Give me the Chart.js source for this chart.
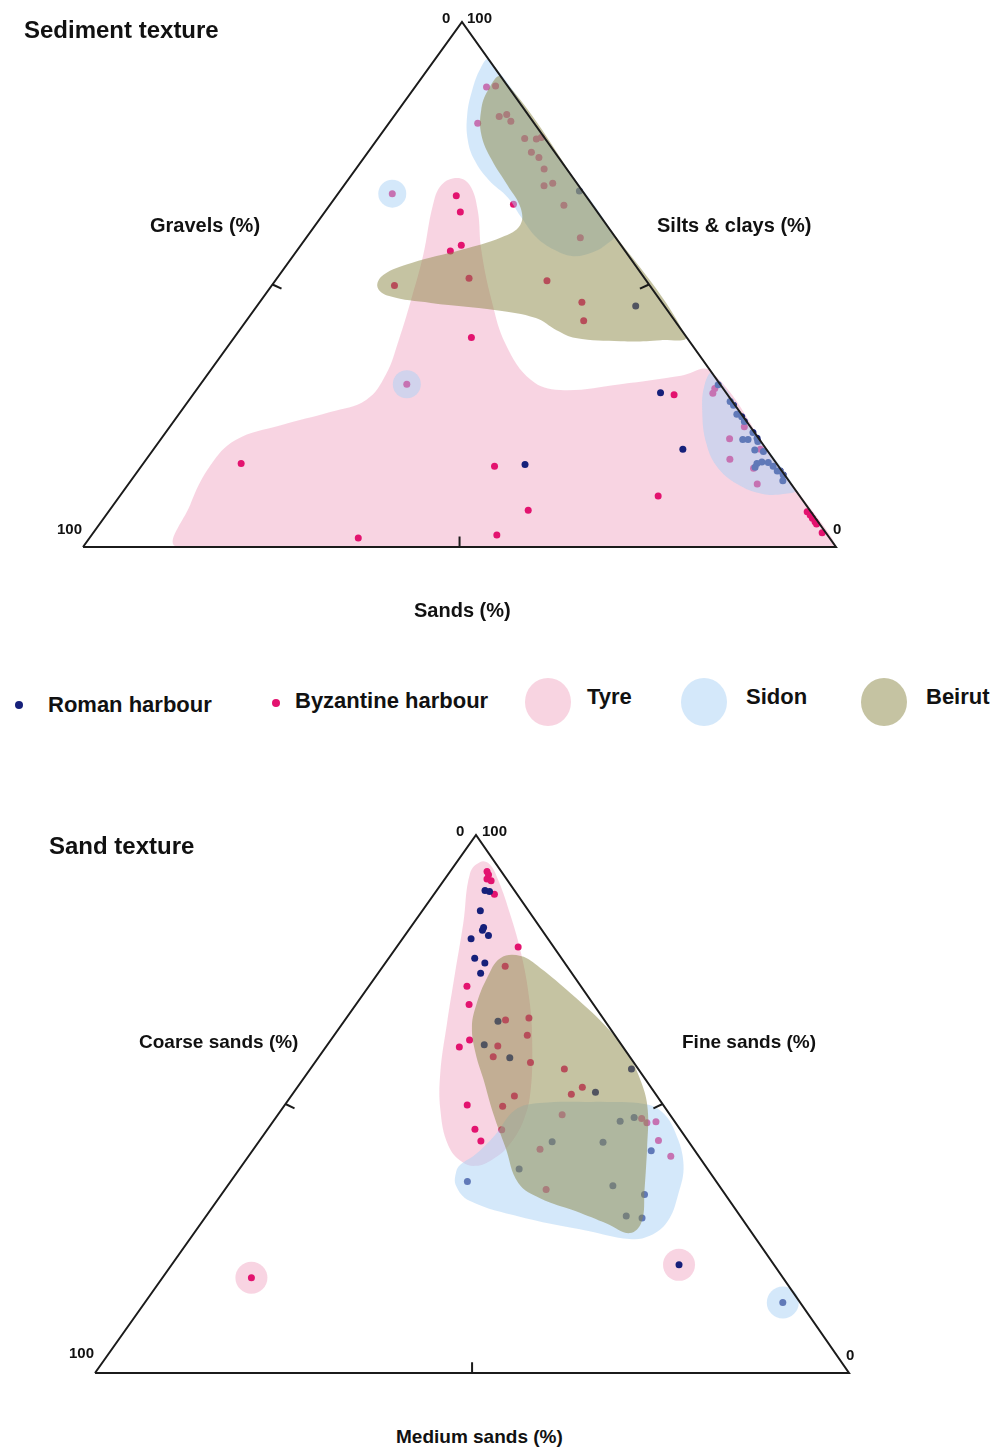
<!DOCTYPE html>
<html>
<head>
<meta charset="utf-8">
<script src="https://cdn.jsdelivr.net/npm/chart.js@4.4.1/dist/chart.umd.min.js"></script>
<style>
  body { margin: 0; background: #fff; width: 993px; height: 1448px; position: relative; overflow: hidden;
         font-family: "Liberation Sans", Arial, Helvetica, sans-serif; font-weight: bold; color: #111; }
  .t { position: absolute; white-space: nowrap; line-height: 1; }
  .dot { position: absolute; border-radius: 50%; }
  canvas { position: absolute; left: 0; }
</style>
</head>
<body>
<canvas id="sediment" width="993" height="600" style="top:0"></canvas>
<canvas id="sand" width="993" height="620" style="top:780px"></canvas>

<div class="t" style="left:24px;top:18px;font-size:24px">Sediment texture</div>
<div class="t" style="left:442px;top:10px;font-size:15px">0</div>
<div class="t" style="left:467px;top:10px;font-size:15px">100</div>
<div class="t" style="left:150px;top:215px;font-size:20px">Gravels (%)</div>
<div class="t" style="left:657px;top:215px;font-size:20px">Silts &amp; clays (%)</div>
<div class="t" style="left:414px;top:600px;font-size:20px">Sands (%)</div>
<div class="t" style="left:57px;top:521px;font-size:15px">100</div>
<div class="t" style="left:833px;top:521px;font-size:15px">0</div>

<div class="dot" style="left:15px;top:701px;width:8px;height:8px;background:#16207a"></div>
<div class="t" style="left:48px;top:694px;font-size:22px">Roman harbour</div>
<div class="dot" style="left:272px;top:699px;width:8px;height:8px;background:#e3136f"></div>
<div class="t" style="left:295px;top:690px;font-size:22px">Byzantine harbour</div>
<div class="dot" style="left:525px;top:678px;width:46px;height:48px;background:rgb(248,212,225)"></div>
<div class="t" style="left:587px;top:686px;font-size:22px">Tyre</div>
<div class="dot" style="left:681px;top:678px;width:46px;height:48px;background:rgb(212,232,250)"></div>
<div class="t" style="left:746px;top:686px;font-size:22px">Sidon</div>
<div class="dot" style="left:861px;top:678px;width:46px;height:48px;background:rgb(197,195,162)"></div>
<div class="t" style="left:926px;top:686px;font-size:22px">Beirut</div>

<div class="t" style="left:49px;top:834px;font-size:24px">Sand texture</div>
<div class="t" style="left:456px;top:823px;font-size:15px">0</div>
<div class="t" style="left:482px;top:823px;font-size:15px">100</div>
<div class="t" style="left:139px;top:1032px;font-size:19px">Coarse sands (%)</div>
<div class="t" style="left:682px;top:1032px;font-size:19px">Fine sands (%)</div>
<div class="t" style="left:396px;top:1427px;font-size:19px">Medium sands (%)</div>
<div class="t" style="left:69px;top:1345px;font-size:15px">100</div>
<div class="t" style="left:846px;top:1347px;font-size:15px">0</div>

<script>
// Sediment texture: [gravels, sands, silts & clays] (%)
const sedimentRoman = [
  [0.4, 31.8, 67.8], [3.8, 50.3, 45.9], [33.5, 50.8, 15.7], [8.7, 61.9, 29.4], [11.1, 70.3, 18.6],
  [0.3, 68.8, 30.9], [0.3, 72.0, 27.7], [0.2, 72.8, 27.0], [0.6, 74.1, 25.3], [0.2, 75.0, 24.8],
  [0.3, 75.8, 23.9], [0.2, 78.0, 21.8], [2.2, 77.3, 20.5], [1.5, 78.0, 20.5], [0.2, 79.1, 20.7],
  [0.4, 79.5, 20.1], [1.6, 79.9, 18.5], [0.6, 81.2, 18.2], [2.6, 81.5, 15.9], [3.2, 81.6, 15.2],
  [1.8, 82.0, 16.2], [1.0, 82.9, 16.1], [0.7, 83.9, 15.4], [0.6, 84.9, 14.5], [0.2, 85.3, 14.5],
  [0.2, 86.1, 13.7], [0.8, 86.6, 12.6]
];
const sedimentByzantine = [
  [2.9, 9.5, 87.6], [1.6, 10.6, 87.8], [7.5, 11.8, 80.7], [4.0, 14.0, 82.0], [2.8, 14.8, 82.4],
  [2.9, 16.0, 81.1], [2.7, 19.5, 77.8], [1.2, 21.1, 77.7], [0.4, 21.6, 78.0], [3.1, 21.7, 75.2],
  [2.6, 23.2, 74.2], [3.0, 25.0, 72.0], [4.6, 26.6, 68.8], [3.2, 27.5, 69.3], [10.4, 24.3, 65.3],
  [3.8, 31.1, 65.1], [4.7, 36.4, 58.9], [25.5, 7.2, 67.3], [17.2, 15.9, 66.9], [18.2, 18.0, 63.8],
  [21.2, 21.3, 57.5], [23.2, 20.4, 56.4], [23.3, 25.5, 51.2], [33.9, 16.3, 49.8], [13.2, 36.1, 50.7],
  [10.6, 42.8, 46.6], [12.1, 44.8, 43.1], [28.6, 31.5, 39.9], [41.6, 27.4, 31.0], [71.1, 13.0, 15.9],
  [37.7, 46.9, 15.4], [37.4, 55.6, 7.0], [62.6, 35.7, 1.7], [43.9, 53.8, 2.3], [18.8, 71.5, 9.7],
  [7.1, 63.9, 29.0], [1.8, 68.9, 29.3], [1.1, 68.7, 30.2], [0.8, 76.3, 22.9], [3.9, 75.5, 20.6],
  [0.8, 80.6, 18.6], [5.8, 77.5, 16.7], [3.5, 81.5, 15.0], [4.5, 83.5, 12.0], [0.5, 92.8, 6.7],
  [0.4, 93.5, 6.1], [0.4, 94.1, 5.5], [0.4, 94.8, 4.8], [0.4, 95.2, 4.4], [0.5, 96.8, 2.7]
];
const sedimentSidonSingles = [[25.5, 7.2, 67.3], [41.6, 27.4, 31.0]];
// envelopes (outline vertices)
const sedimentTyre = [
  [44.6, 55.4, 0], [87.4, 12.6, 0], [81.8, 10.2, 8.0], [75.3, 9.1, 15.6], [69.6, 10.0, 20.4],
  [62.2, 14.6, 23.2], [54.4, 19.9, 25.7], [48.5, 23.5, 28.0], [43.5, 23.7, 32.8], [38.5, 22.1, 39.4],
  [33.1, 19.9, 47.0], [27.2, 17.2, 55.6], [21.2, 13.7, 65.1], [18.1, 12.9, 69.0], [15.4, 14.3, 70.3],
  [14.4, 16.6, 69.0], [15.7, 20.1, 64.2], [19.0, 24.4, 56.6], [22.4, 30.6, 47.0], [24.7, 36.8, 38.5],
  [24.7, 43.5, 31.8], [21.8, 48.3, 29.9], [13.2, 55.8, 31.0], [4.4, 63.0, 32.6], [0, 66.5, 33.5],
  [0, 83.4, 16.6], [0, 100, 0], [44.6, 55.4, 0]
];
const sedimentSidon = [
  [0, 23.9, 76.1], [0, 7.2, 92.8], [1.9, 6.9, 91.2], [5.1, 7.9, 87.0], [8.1, 9.6, 82.3],
  [10.4, 12.1, 77.5], [11.4, 14.9, 73.7], [11.4, 18.7, 69.9], [10.5, 23.0, 66.5], [10.6, 26.5, 62.9],
  [10.5, 30.5, 59.0], [9.3, 34.1, 56.6], [7.4, 37.2, 55.4], [4.3, 39.5, 56.2], [1.5, 40.6, 57.9],
  [0, 40.6, 59.4], [0, 23.9, 76.1]
];
const sedimentSidonSands = [
  [0, 77.9, 22.1], [0, 66.9, 33.1], [2.1, 67.0, 30.9], [4.8, 69.1, 26.1], [7.4, 72.8, 19.8],
  [8.2, 76.8, 15.0], [6.9, 81.5, 11.6], [4.7, 85.2, 10.1], [2.0, 87.9, 10.1], [0, 89.1, 10.9],
  [0, 77.9, 22.1]
];
const sedimentBeirut = [
  [0, 35, 65], [0, 10.5, 89.5], [3.0, 10.0, 87.0], [5.8, 11.0, 83.2], [8.1, 13.4, 78.5],
  [9.1, 17.2, 73.7], [9.4, 21.7, 68.9], [9.8, 25.6, 64.6], [11.5, 27.2, 61.3], [15.1, 25.9, 59.0],
  [21.6, 21.8, 56.6], [29.5, 16.4, 54.1], [34.4, 13.8, 51.8], [36.3, 14.2, 49.5], [35.6, 16.6, 47.8],
  [30.7, 22.8, 46.5], [22.7, 32.2, 45.1], [18.2, 38.2, 43.6], [16.6, 42.1, 41.3], [14.8, 45.4, 39.8],
  [9.1, 51.7, 39.2], [3.7, 56.9, 39.4], [0, 59.8, 40.2], [0, 35, 65]
];

// Sand texture: [coarse, medium, fine] (%)
const sandRoman = [
  [3.9, 6.4, 89.7], [3.4, 7.1, 89.5], [6.4, 7.7, 85.9], [7.5, 9.7, 82.8], [7.9, 9.8, 82.3],
  [7.6, 11.1, 81.3], [10.2, 9.1, 80.7], [11.5, 11.4, 77.1], [10.6, 13.2, 76.2], [12.1, 13.6, 74.3],
  [14.2, 20.4, 65.4], [18.2, 20.8, 61.0], [16.0, 25.4, 58.6], [0.9, 42.6, 56.5], [7.8, 40.0, 52.2],
  [7.2, 46.0, 46.8], [5.0, 47.5, 47.5], [18.1, 38.9, 43.0], [11.4, 45.7, 42.9], [5.8, 52.9, 41.3],
  [25.0, 37.1, 37.9], [33.0, 31.4, 35.6], [14.1, 51.1, 34.8], [10.7, 56.1, 33.2], [15.1, 55.7, 29.2],
  [13.2, 58.0, 28.8], [12.6, 67.3, 20.1], [2.3, 84.6, 13.1]
];
const sandByzantine = [
  [1.9, 4.9, 93.2], [2.0, 5.4, 92.6], [2.6, 5.6, 91.8], [2.2, 6.3, 91.5], [3.0, 8.0, 89.0],
  [4.7, 16.1, 79.2], [8.2, 16.2, 75.6], [15.1, 13.0, 71.9], [16.5, 15.0, 68.5], [13.1, 21.3, 65.6],
  [9.8, 24.2, 66.0], [11.6, 25.6, 62.8], [19.7, 18.4, 61.9], [21.7, 17.7, 60.6], [16.5, 22.7, 60.8],
  [18.1, 23.1, 58.8], [13.7, 28.6, 57.7], [9.8, 33.7, 56.5], [9.1, 37.8, 53.1], [11.2, 37.0, 51.8],
  [18.9, 29.6, 51.5], [21.4, 29.0, 49.6], [26.0, 24.2, 49.8], [14.3, 37.7, 48.0], [27.2, 27.5, 45.3],
  [23.7, 31.1, 45.2], [27.5, 29.4, 43.1], [20.4, 38.0, 41.6], [23.3, 42.6, 34.1], [4.1, 48.6, 47.3],
  [3.8, 49.7, 46.5], [2.5, 50.8, 46.7], [3.9, 52.9, 43.2], [3.7, 56.0, 40.3], [70.5, 11.8, 17.7]
];
const sandTyreSingles = [[70.5, 11.8, 17.7], [12.6, 67.3, 20.1]];
const sandSidonSingles = [[2.3, 84.6, 13.1]];
const sandTyre = [
  [15.5, 10.2, 74.3], [21.1, 13.8, 65.1], [26.6, 17.6, 55.8], [30.0, 21.1, 48.9], [32.2, 25.4, 42.4],
  [31.9, 28.9, 39.2], [30.4, 31.1, 38.5], [27.8, 32.6, 39.6], [24.3, 33.5, 42.2], [19.9, 33.1, 47.0],
  [16.2, 31.2, 52.6], [11.4, 26.7, 61.9], [8.1, 22.6, 69.3], [5.0, 17.3, 77.7], [2.8, 12.1, 85.1],
  [1.2, 7.2, 91.6], [0.9, 4.5, 94.6], [1.9, 3.1, 95.0], [4.3, 2.8, 92.9], [9.8, 6.6, 83.6],
  [15.5, 10.2, 74.3]
];
const sandSidon = [
  [8.0, 41.6, 50.4], [2.4, 47.6, 50.0], [0.8, 50.7, 48.5], [0.9, 54.3, 44.8], [2.8, 58.5, 38.7],
  [6.3, 60.6, 33.1], [10.2, 61.7, 28.1], [13.8, 60.7, 25.5], [16.8, 58.3, 24.9], [21.5, 52.1, 26.4],
  [29.2, 41.8, 29.0], [34.5, 33.5, 32.0], [34.9, 30.3, 34.8], [33.6, 29.0, 37.4], [32.4, 28.9, 38.7],
  [29.6, 29.9, 40.5], [25.1, 30.7, 44.2], [20.1, 31.0, 48.9], [16.2, 33.6, 50.2], [8.0, 41.6, 50.4]
];
const sandBeirut = [
  [6.3, 52.3, 41.4], [10.3, 55.7, 34.0], [13.6, 58.3, 28.1], [16.2, 57.8, 26.0], [18.3, 54.0, 27.7],
  [21.4, 48.5, 30.1], [24.9, 42.6, 32.5], [26.4, 38.3, 35.3], [24.8, 33.2, 42.0], [23.3, 28.4, 48.3],
  [21.5, 24.0, 54.5], [20.1, 20.4, 59.5], [18.2, 17.5, 64.3], [15.6, 16.0, 68.4], [11.7, 14.9, 73.4],
  [8.1, 14.8, 77.1], [5.2, 17.3, 77.5], [3.7, 21.0, 75.3], [2.0, 27.4, 70.6], [0.4, 34.9, 64.7],
  [0, 40.5, 59.5], [0.8, 45.1, 54.1], [2.5, 48.6, 48.9], [6.3, 52.3, 41.4]
];

// triangle frame and half-way ticks
const frame = [[100, 0, 0], [0, 100, 0], [0, 0, 100], [100, 0, 0]];
const ticks = [
  [[50, 0, 50], [49.2, 1.6, 49.2]],
  [[0, 50, 50], [1.6, 49.2, 49.2]],
  [[50, 50, 0], [49, 49, 2]]
];

const NAVY = '#16207a';
const MAGENTA = '#e3136f';
const TYRE = 'rgba(240,160,190,0.45)';
const SIDON = 'rgba(170,210,245,0.5)';
const BEIRUT = 'rgba(140,135,70,0.5)';

// ternary -> plot coords; k = horizontal position of the apex in the drawn triangle
function toXY(k) {
  return p => {
    const s = p[0] + p[1] + p[2];
    return { x: (p[1] + k * p[2]) / s * 100, y: p[2] / s * 100 };
  };
}

function area(pts, color, conv) {
  return { data: pts.map(conv), showLine: true, fill: 'shape', backgroundColor: color,
           borderColor: 'rgba(0,0,0,0)', borderWidth: 0, pointRadius: 0, tension: 0.4, clip: false };
}
function dots(pts, color, r, conv) {
  return { data: pts.map(conv), showLine: false, pointRadius: r, pointBackgroundColor: color,
           pointBorderColor: color, pointBorderWidth: 0, clip: false };
}
function line(pts, conv) {
  return { data: pts.map(conv), showLine: true, fill: false, borderColor: '#1b1b1b', borderWidth: 2,
           pointRadius: 0, tension: 0, clip: false };
}

function ternary(id, k, padding, sets) {
  const conv = toXY(k);
  const datasets = [line(frame, conv)];
  ticks.forEach(t => datasets.push(line(t, conv)));
  // first dataset is drawn on top
  sets.forEach(s => datasets.push(s.kind === 'area' ? area(s.pts, s.color, conv) : dots(s.pts, s.color, s.r, conv)));
  new Chart(document.getElementById(id), {
    type: 'scatter',
    data: { datasets },
    options: {
      responsive: false,
      animation: false,
      events: [],
      layout: { padding },
      scales: {
        x: { type: 'linear', min: 0, max: 100, display: false },
        y: { type: 'linear', min: 0, max: 100, display: false }
      },
      plugins: { legend: { display: false }, tooltip: { enabled: false } }
    }
  });
}

ternary('sediment', 0.5033, { left: 83, top: 22, right: 157, bottom: 53 }, [
  { kind: 'area', pts: sedimentBeirut, color: BEIRUT },
  { kind: 'area', pts: sedimentSidon, color: SIDON },
  { kind: 'area', pts: sedimentSidonSands, color: SIDON },
  { kind: 'dots', pts: sedimentSidonSingles, color: SIDON, r: 14 },
  { kind: 'dots', pts: sedimentRoman, color: NAVY, r: 3.5 },
  { kind: 'dots', pts: sedimentByzantine, color: MAGENTA, r: 3.5 },
  { kind: 'area', pts: sedimentTyre, color: TYRE }
]);

ternary('sand', 0.5053, { left: 95, top: 55, right: 144, bottom: 27 }, [
  { kind: 'area', pts: sandBeirut, color: BEIRUT },
  { kind: 'area', pts: sandSidon, color: SIDON },
  { kind: 'dots', pts: sandSidonSingles, color: SIDON, r: 16 },
  { kind: 'dots', pts: sandRoman, color: NAVY, r: 3.5 },
  { kind: 'dots', pts: sandByzantine, color: MAGENTA, r: 3.5 },
  { kind: 'area', pts: sandTyre, color: TYRE },
  { kind: 'dots', pts: sandTyreSingles, color: TYRE, r: 16 }
]);
</script>
</body>
</html>
